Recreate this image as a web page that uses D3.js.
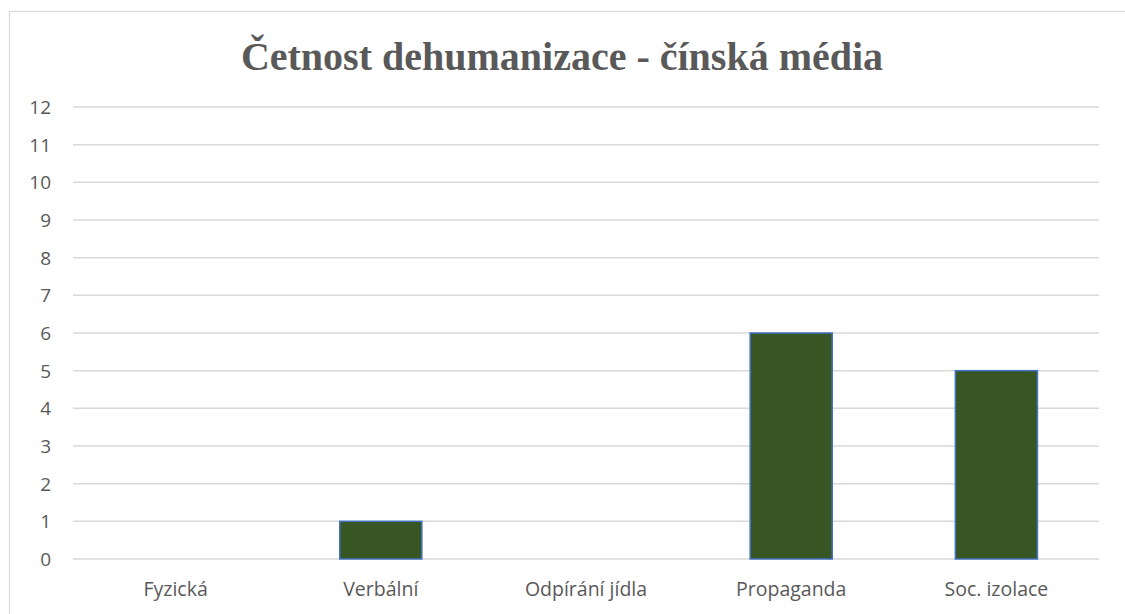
<!DOCTYPE html>
<html>
<head>
<meta charset="utf-8">
<script src="https://cdn.jsdelivr.net/npm/d3@7"></script>
<style>
  html, body { margin: 0; padding: 0; background: #fff; }
  svg { display: block; }
</style>
</head>
<body>
<svg id="chart" width="1125" height="614"></svg>
<script>
const title = "Četnost dehumanizace - čínská média";
const categories = ["Fyzická", "Verbální", "Odpírání jídla", "Propaganda", "Soc. izolace"];
const values = [0, 1, 0, 6, 5];
const yTicks = [0, 1, 2, 3, 4, 5, 6, 7, 8, 9, 10, 11, 12];

const svg = d3.select("#chart");
const plot = { left: 73, right: 1099, top: 107, bottom: 559 };

// outer chart border
svg.append("rect")
  .attr("x", 9.5).attr("y", 11.5)
  .attr("width", 1130).attr("height", 620)
  .attr("fill", "#fff")
  .attr("stroke", "#d9d9d9")
  .attr("stroke-width", 1.2);

const x = d3.scaleBand().domain(categories).range([plot.left, plot.right]).padding(0);
const y = d3.scaleLinear().domain([0, 12]).range([plot.bottom, plot.top]);

// gridlines
svg.append("g").selectAll("line").data(yTicks).join("line")
  .attr("x1", plot.left).attr("x2", plot.right)
  .attr("y1", d => y(d)).attr("y2", d => y(d))
  .attr("stroke", "#d9d9d9").attr("stroke-width", 1.5);

// y tick labels
svg.append("g").selectAll("text").data(yTicks).join("text")
  .attr("x", 51).attr("y", d => y(d))
  .attr("dy", "0.36em")
  .attr("text-anchor", "end")
  .attr("font-family", "'Open Sans', 'Noto Sans', sans-serif")
  .attr("font-size", 19)
  .attr("fill", "#595959")
  .text(d => d);

// bars
const barW = x.bandwidth() * 0.4;
svg.append("g").selectAll("rect").data(categories.map((c, i) => ({ c, v: values[i] })).filter(d => d.v > 0)).join("rect")
  .attr("x", d => x(d.c) + (x.bandwidth() - barW) / 2)
  .attr("y", d => y(d.v))
  .attr("width", barW)
  .attr("height", d => y(0) - y(d.v))
  .attr("fill", "#375623")
  .attr("stroke", "#4472c4")
  .attr("stroke-width", 1.5);

// category labels
svg.append("g").selectAll("text").data(categories).join("text")
  .attr("x", d => x(d) + x.bandwidth() / 2)
  .attr("y", 596)
  .attr("text-anchor", "middle")
  .attr("font-family", "'Open Sans', 'Noto Sans', sans-serif")
  .attr("font-size", 19.5)
  .attr("fill", "#595959")
  .text(d => d);

// title
svg.append("text")
  .attr("x", 562).attr("y", 70)
  .attr("text-anchor", "middle")
  .attr("font-family", "'Liberation Serif', 'Times New Roman', serif")
  .attr("font-weight", "bold")
  .attr("font-size", 40)
  .attr("fill", "#595959")
  .text(title);
</script>
</body>
</html>
